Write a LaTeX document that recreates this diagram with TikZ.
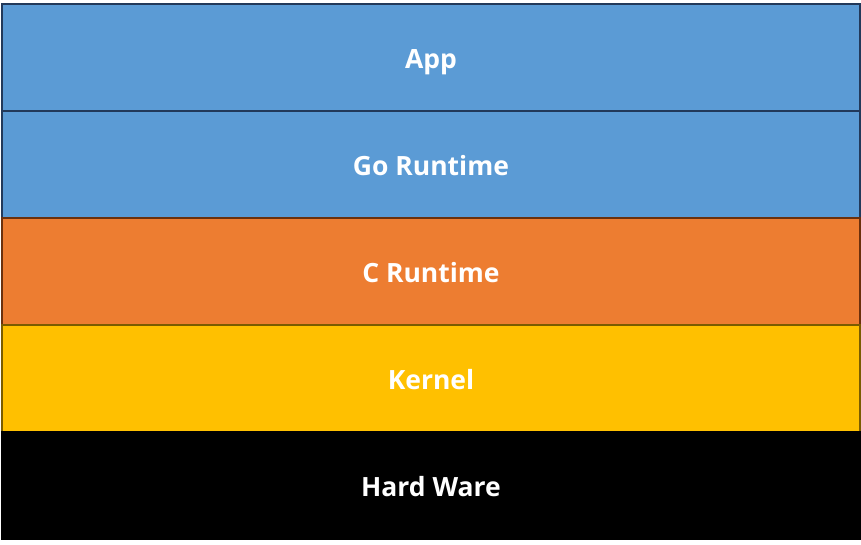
\documentclass[tikz,border=0pt]{standalone}
\usepackage{fontspec}
\setmainfont{Open Sans}
\usetikzlibrary{positioning}

\definecolor{appblue}{HTML}{5B9BD5}
\definecolor{appblueline}{HTML}{22395A}
\definecolor{crtorange}{HTML}{ED7D31}
\definecolor{crtorangeline}{HTML}{6B300C}
\definecolor{kernyellow}{HTML}{FFC000}
\definecolor{kernyellowline}{HTML}{7A5C00}

\begin{document}
\begin{tikzpicture}[x=1pt, y=1pt,
    layer/.style={draw, line width=1.6pt, outer sep=0pt, minimum width=858pt, minimum height=107pt,
      text=white, text height=22pt, text depth=0pt, font=\bfseries\fontsize{26.5}{30}\selectfont}]
  \useasboundingbox (0,0) rectangle (861,544);
  % stack of layers, top to bottom
  \node[layer, fill=appblue, draw=appblueline, anchor=north west] (app) at (2,540) {App};
  \node[layer, fill=appblue, draw=appblueline, below=0pt of app] (goruntime) {Go Runtime};
  \node[layer, fill=crtorange, draw=crtorangeline, below=0pt of goruntime] (cruntime) {C Runtime};
  \node[layer, fill=kernyellow, draw=kernyellowline, below=0pt of cruntime] (kernel) {Kernel};
  \node[layer, fill=black, draw=black, below=0pt of kernel] (hardware) {Hard Ware};
\end{tikzpicture}
\end{document}
